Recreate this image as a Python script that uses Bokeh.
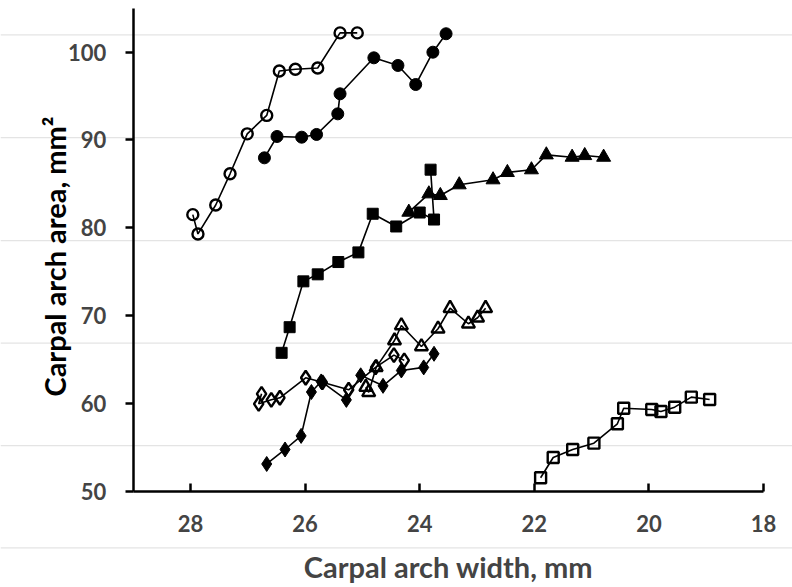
import math
from bokeh.plotting import figure
from bokeh.models import Range1d, LinearAxis, FixedTicker, Span, Label
from bokeh.embed import file_html
from bokeh.resources import INLINE

# ---- data ----
open_circle_x = [27.96, 27.87, 27.56, 27.31, 27.01, 26.67, 26.45, 26.17, 25.78, 25.39, 25.09]
open_circle_y = [81.5, 79.3, 82.6, 86.15, 90.7, 92.8, 97.85, 98.05, 98.2, 102.2, 102.2]

filled_circle_x = [26.71, 26.49, 26.06, 25.80, 25.43, 25.39, 24.80, 24.38, 24.07, 23.77, 23.54]
filled_circle_y = [87.97, 90.40, 90.32, 90.63, 92.98, 95.26, 99.36, 98.49, 96.32, 100.0, 102.1]

filled_square_x = [26.41, 26.27, 26.03, 25.78, 25.42, 25.07, 24.82, 24.41, 24.00, 23.75, 23.81]
filled_square_y = [65.76, 68.68, 73.9, 74.7, 76.1, 77.2, 81.6, 80.15, 81.74, 80.94, 86.62]

filled_triangle_x = [24.19, 23.84, 23.64, 23.31, 22.72, 22.47, 22.05, 21.79, 21.34, 21.12, 20.79]
filled_triangle_y = [81.78, 83.87, 83.68, 84.90, 85.47, 86.30, 86.61, 88.31, 88.04, 88.23, 88.04]

open_triangle_x = [24.94, 24.89, 24.76, 24.44, 24.32, 23.97, 23.68, 23.47, 23.15, 22.99, 22.85]
open_triangle_y = [61.85, 61.27, 64.1, 67.16, 68.87, 66.48, 68.50, 70.84, 69.07, 69.75, 70.84]

open_diamond_x = [26.76, 26.81, 26.59, 26.44, 25.99, 25.70, 25.24, 24.77, 24.45, 24.27]
open_diamond_y = [61.09, 59.95, 60.41, 60.64, 62.92, 62.4, 61.55, 64.1, 65.5, 64.9]

filled_diamond_x = [26.67, 26.35, 26.07, 25.89, 25.72, 25.28, 25.03, 24.64, 24.32, 23.93, 23.75]
filled_diamond_y = [53.1, 54.75, 56.3, 61.3, 62.5, 60.4, 63.2, 62.0, 63.75, 64.1, 65.65]

open_square_x = [21.89, 21.67, 21.33, 20.96, 20.55, 20.44, 19.95, 19.79, 19.55, 19.26, 18.94]
open_square_y = [51.53, 53.84, 54.75, 55.47, 57.68, 59.45, 59.30, 59.08, 59.57, 60.71, 60.44]

x_ticks = [28, 26, 24, 22, 20, 18]
y_ticks = [50, 60, 70, 80, 90, 100]
bg_grid_y = [43.55, 55.2, 66.86, 78.55, 90.28, 101.98]

X_TITLE = "Carpal arch width, mm"
Y_TITLE = "Carpal arch area, mm\u00b2"

FONT = "Lato"
W, H = 792, 587

p = figure(width=W, height=H, output_backend="svg", toolbar_location=None,
           x_range=Range1d(31.316, 17.494), y_range=Range1d(39.032, 105.888),
           x_axis_type=None, y_axis_type=None, min_border=0,
           outline_line_color=None, background_fill_color="white")
p.xgrid.visible = False
p.ygrid.visible = False

for gy in bg_grid_y:
    p.add_layout(Span(location=gy, dimension="width", line_color="#e4e4e4",
                      line_width=1.3, level="underlay"))

xaxis = LinearAxis(fixed_location=50, bounds=(18, 29),
                   ticker=FixedTicker(ticks=x_ticks),
                   axis_line_width=2.5, axis_line_color="black",
                   major_tick_line_width=2.5, major_tick_in=8, major_tick_out=0,
                   minor_tick_line_color=None,
                   major_label_text_font=FONT, major_label_text_font_style="bold",
                   major_label_text_font_size="22px", major_label_standoff=24,
                   axis_label=X_TITLE, axis_label_text_font=FONT,
                   axis_label_text_font_style="bold", axis_label_text_font_size="29px",
                   axis_label_standoff=13)
yaxis = LinearAxis(fixed_location=29, bounds=(50, 105),
                   ticker=FixedTicker(ticks=y_ticks),
                   axis_line_width=2.5, axis_line_color="black",
                   major_tick_line_width=2.5, major_tick_in=0, major_tick_out=8,
                   minor_tick_line_color=None,
                   major_label_text_font=FONT, major_label_text_font_style="bold",
                   major_label_text_font_size="22px", major_label_standoff=19)
p.add_layout(xaxis, "below")
p.add_layout(yaxis, "left")

p.add_layout(Label(x=54, y=H - 256, x_units="screen", y_units="screen",
                   text=Y_TITLE, angle=math.pi / 2, text_align="center",
                   text_baseline="middle", text_font=FONT, text_font_style="bold",
                   text_font_size="29px", text_color="black"))

LW = 1.6

def series(xs, ys, marker, size, filled):
    p.line(xs, ys, line_color="black", line_width=LW)
    p.scatter(xs, ys, marker=marker, size=size,
              fill_color="black" if filled else None,
              line_color="black", line_width=1 if filled else 2.4)

series(open_circle_x, open_circle_y, "circle", 11, False)
series(filled_circle_x, filled_circle_y, "circle", 12, True)
series(filled_square_x, filled_square_y, "square", 11, True)
series(filled_triangle_x, filled_triangle_y, "triangle", 14, True)
series(open_triangle_x, open_triangle_y, "triangle", 13, False)
series(filled_diamond_x, filled_diamond_y, "diamond", 15, True)
series(open_diamond_x, open_diamond_y, "diamond", 14, False)
series(open_square_x, open_square_y, "square", 11, False)

open("out.html", "w").write(file_html(p, INLINE))
